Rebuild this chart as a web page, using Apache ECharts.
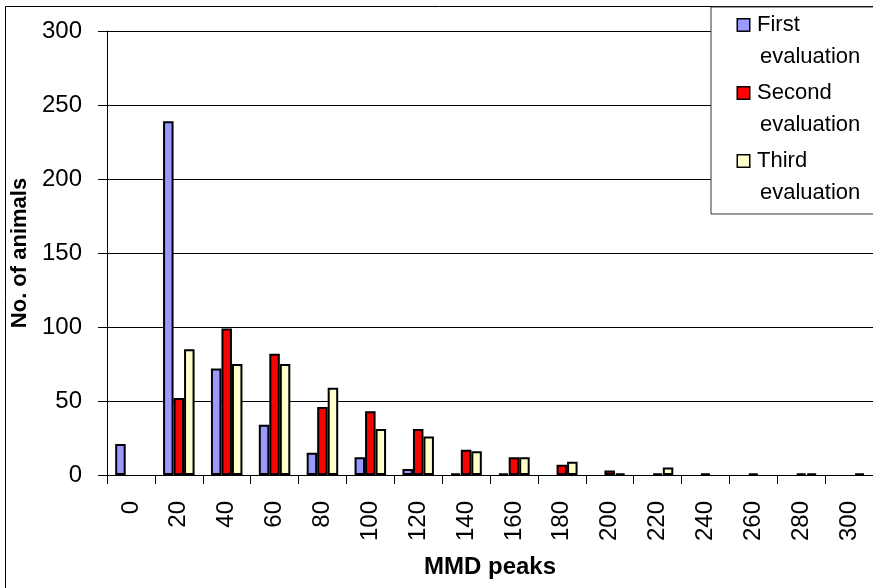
<!DOCTYPE html>
<html>
<head>
<meta charset="utf-8">
<script src="https://cdn.jsdelivr.net/npm/echarts@6/dist/echarts.min.js"></script>
<style>html,body{margin:0;padding:0;background:#fff}#c{width:873px;height:588px}</style>
</head>
<body>
<div id="c"></div>
<script>
const categories = ['0','20','40','60','80','100','120','140','160','180','200','220','240','260','280','300'];
const firstEval  = [21, 239, 72, 34, 15, 12, 4, 1, 1, 0, 0, 0, 0, 0, 0, 0];
const secondEval = [0, 52, 99, 82, 46, 43, 31, 17, 12, 7, 3, 1, 1, 1, 1, 0];
const thirdEval  = [0, 85, 75, 75, 59, 31, 26, 16, 12, 9, 1, 5, 0, 0, 1, 1];
const seriesNames = ['First evaluation', 'Second evaluation', 'Third evaluation'];
const yTicks = [0, 50, 100, 150, 200, 250, 300];

const FONT = '"Liberation Sans", Arial, sans-serif';
const colors = ['#9999ff', '#ff0000', '#ffffcc'];
const chart = echarts.init(document.getElementById('c'), null, {renderer: 'canvas'});

function barData(arr) {
  return arr.map(v => v === 0 ? {value: 0, itemStyle: {borderWidth: 0}} : v);
}
const allData = [firstEval, secondEval, thirdEval];

const rich = {
  g: {width: 8, lineHeight: 32},
  p: {width: 22, lineHeight: 32}
};
colors.forEach((c, i) => {
  rich['s' + i] = {width: 11, height: 11, backgroundColor: c, borderColor: '#000', borderWidth: 1.5, lineHeight: 32};
});

chart.setOption({
  animation: false,
  backgroundColor: '#fff',
  graphic: [{
    type: 'rect', z: -10, silent: true,
    shape: {x: 5.5, y: 6.5, width: 1000, height: 1000},
    style: {fill: 'none', stroke: '#000', lineWidth: 1}
  }],
  grid: {left: 107, top: 31, right: -7, bottom: 113},
  legend: {
    orient: 'vertical', left: 711, top: 7,
    itemWidth: 0, itemHeight: 0, itemGap: 4,
    padding: [2, 40, 5, 21],
    borderColor: '#333', borderWidth: 1, backgroundColor: '#fff',
    data: seriesNames,
    formatter: function (name) {
      const i = seriesNames.indexOf(name);
      const parts = name.split(' ');
      return '{s' + i + '|}{g|}' + parts[0] + '\n{p|}' + parts[1];
    },
    textStyle: {fontSize: 22, fontFamily: FONT, color: '#000', lineHeight: 32, rich: rich}
  },
  xAxis: {
    type: 'category',
    data: categories,
    name: 'MMD peaks',
    nameLocation: 'middle',
    nameGap: 80,
    nameTextStyle: {fontSize: 24, fontWeight: 'bold', fontFamily: FONT, color: '#000'},
    axisLine: {lineStyle: {color: '#000', width: 1}},
    axisTick: {show: true, length: 9, lineStyle: {color: '#000'}},
    axisLabel: {rotate: 90, margin: 26, fontSize: 24, fontFamily: FONT, color: '#000'},
    splitLine: {show: false}
  },
  yAxis: {
    type: 'value',
    min: yTicks[0], max: yTicks[yTicks.length - 1], interval: 50,
    name: 'No. of animals',
    nameLocation: 'middle',
    nameGap: 58,
    nameTextStyle: {fontSize: 22, fontWeight: 'bold', fontFamily: FONT, color: '#000'},
    axisLine: {show: true, lineStyle: {color: '#000', width: 1}},
    axisTick: {show: true, length: 9, lineStyle: {color: '#000'}},
    axisLabel: {margin: 25, fontSize: 24, fontFamily: FONT, color: '#000'},
    splitLine: {show: true, lineStyle: {color: '#000', width: 1}}
  },
  series: seriesNames.map((n, i) => ({
    name: n,
    type: 'bar',
    data: barData(allData[i]),
    barWidth: 10.5,
    barGap: '0%',
    itemStyle: {color: colors[i], borderColor: '#000', borderWidth: 2}
  }))
});
</script>
</body>
</html>
